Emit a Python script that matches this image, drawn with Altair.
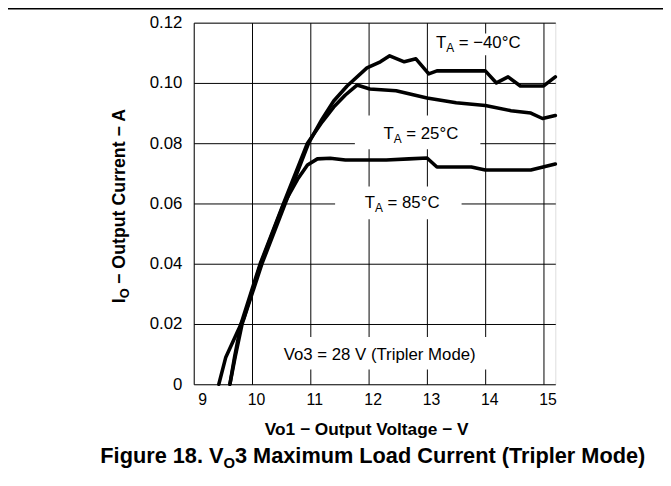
import altair as alt
import pandas as pd

# ---- data ----
v_m40 = [9.62, 9.71, 9.83, 10.17, 10.57, 10.97, 11.20, 11.40, 11.63, 11.97, 12.20, 12.36,
         12.61, 12.81, 13.03, 13.17, 14.00, 14.19, 14.39, 14.60, 15.00, 15.20]
i_m40 = [0.0, 0.009, 0.020, 0.040, 0.060, 0.080, 0.088, 0.094, 0.099, 0.105, 0.107, 0.109,
         0.107, 0.108, 0.103, 0.104, 0.104, 0.100, 0.102, 0.099, 0.099, 0.102]

v_25 = [9.62, 9.70, 9.81, 10.14, 10.54, 10.95, 11.20, 11.40, 11.60, 11.80, 12.02, 12.47,
        13.00, 13.50, 14.00, 14.44, 14.78, 14.98, 15.20]
i_25 = [0.0, 0.009, 0.020, 0.040, 0.060, 0.080, 0.087, 0.092, 0.096, 0.0993, 0.098, 0.0974,
        0.095, 0.0934, 0.0925, 0.0908, 0.090, 0.0882, 0.0892]

v_85 = [9.43, 9.55, 9.74, 9.86, 10.15, 10.54, 10.78, 10.95, 11.12, 11.34, 11.60, 12.30,
        12.69, 13.00, 13.17, 13.76, 14.00, 14.78, 15.20]
i_85 = [0.0, 0.009, 0.017, 0.022, 0.040, 0.0597, 0.068, 0.0728, 0.0748, 0.075, 0.0744, 0.0744,
        0.0748, 0.0751, 0.0721, 0.0721, 0.0711, 0.0711, 0.0731]

x_ticks = [9, 10, 11, 12, 13, 14, 15]
y_ticks = [0.0, 0.02, 0.04, 0.06, 0.08, 0.10, 0.12]

# temperature labels (T + subscript A + rest)
lab_x = [13.153, 12.254, 11.932]
lab_y = [0.1115, 0.0813, 0.0584]
lab_rest = ["= \u221240\u00b0C", "= 25\u00b0C", "= 85\u00b0C"]
note_x = [10.542]
note_y = [0.0082]
note_text = ["Vo3 = 28 V (Tripler Mode)"]

# white label boxes that break the grid
box_x1 = [13.068, 11.763, 11.424, 10.458]
box_x2 = [14.729, 13.915, 13.593, 14.102]
box_y1 = [0.1164, 0.0892, 0.0656, 0.0157]
box_y2 = [0.1092, 0.0780, 0.0548, 0.0049]

rows = []
for name, vs, cs in [("-40", v_m40, i_m40), ("25", v_25, i_25), ("85", v_85, i_85)]:
    for k, (v, c) in enumerate(zip(vs, cs)):
        rows.append({"series": name, "v": v, "i": c, "k": k})
df = pd.DataFrame(rows)

labels = pd.DataFrame({"x": lab_x, "y": lab_y, "rest": lab_rest, "T": ["T"] * 3, "A": ["A"] * 3})
notes = pd.DataFrame({"x": note_x, "y": note_y, "text": note_text})
boxes = pd.DataFrame({"x1": box_x1, "x2": box_x2, "y1": box_y1, "y2": box_y2})

FONT = "Liberation Sans"
xs = alt.Scale(domain=[9, 15.2], nice=False, zero=False)
ys = alt.Scale(domain=[0, 0.12], nice=False)

x_axis = alt.Axis(values=x_ticks, format="d", grid=True, gridColor="#000", gridWidth=1,
                  domain=False, ticks=False, labelFontSize=16, labelPadding=8, labelOffset=4,
                  labelColor="#000", title=None)
y_axis = alt.Axis(values=y_ticks, grid=True, gridColor="#000", gridWidth=1, domain=False,
                  ticks=False, labelFontSize=17, labelPadding=12, labelColor="#000",
                  labelExpr="datum.value == 0 ? '0' : format(datum.value, '.2f')", title=None)

base_rect = alt.Chart(boxes).mark_rect(color="white").encode(
    x=alt.X("x1:Q", scale=xs, axis=x_axis), x2="x2:Q",
    y=alt.Y("y1:Q", scale=ys, axis=y_axis), y2="y2:Q")

lines = alt.Chart(df).mark_line(color="#000", strokeWidth=3.6, strokeJoin="round",
                                strokeCap="round").encode(
    x=alt.X("v:Q", scale=xs), y=alt.Y("i:Q", scale=ys),
    detail="series:N", order="k:Q")

t_main = alt.Chart(labels).mark_text(align="left", baseline="alphabetic", fontSize=17,
                                     font=FONT, color="#000").encode(
    x=alt.X("x:Q", scale=xs), y=alt.Y("y:Q", scale=ys), text="T:N")
t_sub = alt.Chart(labels).mark_text(align="left", baseline="alphabetic", fontSize=12,
                                    font=FONT, color="#000", dx=10.4, dy=4).encode(
    x=alt.X("x:Q", scale=xs), y=alt.Y("y:Q", scale=ys), text="A:N")
t_rest = alt.Chart(labels).mark_text(align="left", baseline="alphabetic", fontSize=17,
                                     font=FONT, color="#000", dx=23.1).encode(
    x=alt.X("x:Q", scale=xs), y=alt.Y("y:Q", scale=ys), text="rest:N")
t_note = alt.Chart(notes).mark_text(align="left", baseline="alphabetic", fontSize=17,
                                    font=FONT, color="#000").encode(
    x=alt.X("x:Q", scale=xs), y=alt.Y("y:Q", scale=ys), text="text:N")

# axis titles and figure caption (text placed relative to the plot area)
def txt(s, x, y, size, weight="bold", align="left", angle=0):
    kw = dict(align=align, baseline="alphabetic", fontSize=size, font=FONT,
              fontWeight=weight, color="#000", text=s)
    if angle:
        kw["angle"] = angle
    return alt.Chart(notes).mark_text(**kw).encode(x=alt.value(x), y=alt.value(y))

xtitle = txt("Vo1 \u2212 Output Voltage \u2212 V", 175, 417, 17.5, align="center")
yt1 = txt("I", -70, 284, 18, angle=270)
yt2 = txt("O", -66, 279, 13, angle=270)
yt3 = txt("\u2212 Output Current \u2212 A", -70, 264.5, 18, angle=270)

cap_size = 22
w1 = 5.669 * cap_size
wO = 0.778 * 15
w3 = 18.947 * cap_size
cap_left = 182 - (w1 + wO + w3) / 2
cap1 = txt("Figure 18. V", cap_left + w1, 446, cap_size, align="right")
cap2 = txt("O", cap_left + w1, 450.5, 15)
cap3 = txt("3 Maximum Load Current (Tripler Mode)", cap_left + w1 + wO, 446, cap_size)

top_rule = alt.Chart(notes).mark_rule(color="#000", strokeWidth=1.5).encode(
    x=alt.value(-200), x2=alt.value(480), y=alt.value(-14))

chart = alt.layer(base_rect, lines, t_main, t_sub, t_rest, t_note, xtitle, yt1, yt2, yt3,
                  cap1, cap2, cap3, top_rule).properties(
    width=366, height=366,
    autosize=alt.AutoSizeParams(type="none"),
    padding={"left": 188, "top": 12, "right": 109, "bottom": 89},
).configure_view(stroke="#000", strokeWidth=2.6).configure(font=FONT)

chart.save("out.html", embed_options={"renderer": "svg", "actions": False})
